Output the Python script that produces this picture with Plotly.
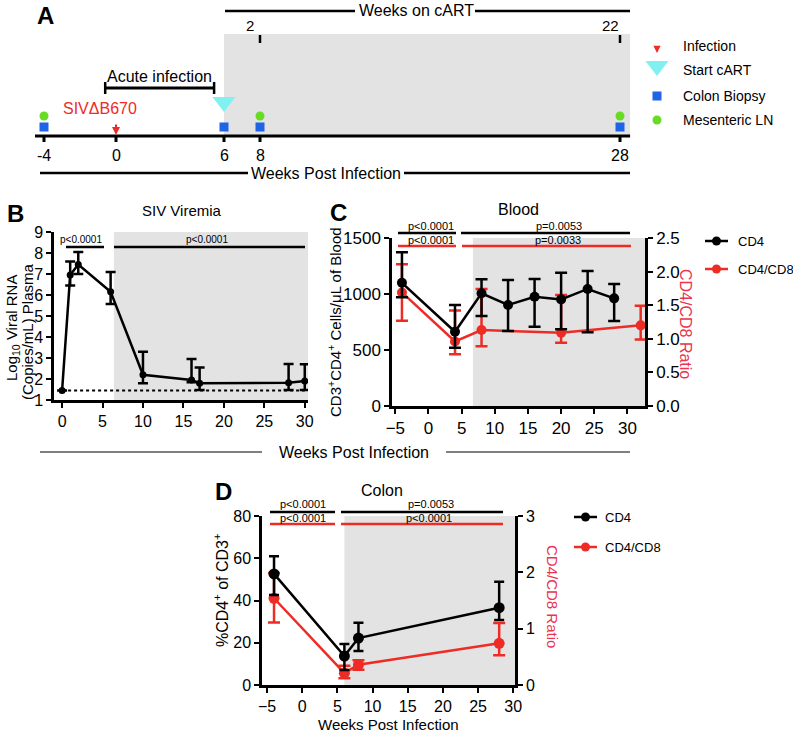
import plotly.graph_objects as go

# ---------------- data ----------------
# Panel A: study timeline (weeks post infection)
timeline_ticks = [-4, 0, 6, 8, 28]
infection_week = 0
cart_start_week = 6
cart_ticks = [8, 28]
biopsy_weeks = [-4, 6, 8, 28]
ln_weeks = [-4, 8, 28]

# Panel B: SIV viremia (log10 copies/mL)
vir_weeks = [0, 1, 2, 6, 10, 16, 17, 28, 30]
vir_mean = [1.45, 6.95, 7.45, 6.15, 2.2, 1.95, 1.8, 1.82, 1.9]
vir_upper = [1.45, 7.6, 8.05, 7.1, 3.3, 2.95, 2.55, 2.72, 2.7]
vir_lower = [1.45, 6.45, 7.0, 5.57, 1.8, 1.85, 1.48, 1.48, 1.48]
detection_limit = 1.45

# Panel C: blood
blood_cd4_weeks = [-4, 4, 8, 12, 16, 20, 24, 28]
blood_cd4_mean = [1100, 663, 1006, 902, 976, 952, 1045, 961]
blood_cd4_upper = [1372, 902, 1131, 1125, 1134, 1190, 1205, 1089]
blood_cd4_lower = [970, 520, 803, 670, 708, 685, 658, 759]
blood_ratio_weeks = [-4, 4, 8, 20, 32]
blood_ratio_mean = [1.69, 0.96, 1.13, 1.09, 1.2]
blood_ratio_upper = [2.11, 1.42, 1.74, 1.65, 1.49]
blood_ratio_lower = [1.27, 0.77, 0.89, 0.94, 0.99]

# Panel D: colon
colon_weeks = [-4, 6, 8, 28]
colon_cd4_mean = [52.6, 13.7, 22.2, 36.6]
colon_cd4_upper = [61, 19.4, 29.5, 48.9]
colon_cd4_lower = [42.6, 7.1, 16.1, 30.8]
colon_ratio_mean = [1.54, 0.21, 0.36, 0.74]
colon_ratio_upper = [1.99, 0.34, 0.44, 1.1]
colon_ratio_lower = [1.11, 0.12, 0.27, 0.53]

# ---------------- styling ----------------
W, H = 793, 732
FONT = "Liberation Sans, Arial, Helvetica, sans-serif"
RED = "#ee2b25"
RED_T = "#ec3350"
GRAY = "#e3e3e3"
BLUE = "#1f63e6"
GREEN = "#66dd22"
CYAN = "#80f0f0"


def dx(a, b):
    return [a / W, b / W]


def dy(top, bottom):
    return [1 - bottom / H, 1 - top / H]


def axstyle(size=15, **kw):
    d = dict(showline=True, linecolor="black", linewidth=2.5, ticks="outside",
             ticklen=5, tickwidth=2, tickcolor="black", showgrid=False,
             zeroline=False, automargin=False,
             tickfont=dict(family=FONT, size=size, color="black"))
    d.update(kw)
    return d


def err(mean, up, lo, color, width=5):
    return dict(type="data", symmetric=False,
                array=[u - m for m, u in zip(mean, up)],
                arrayminus=[m - l for m, l in zip(mean, lo)],
                thickness=2.5, width=width, color=color)


fig = go.Figure()
shapes = []
ann = []


def ptext(x, y, text, size=15, color="black", angle=0, xanchor="center", bold=False):
    if bold:
        text = "<b>" + text + "</b>"
    ann.append(dict(x=x, y=y, xref="x9", yref="y9", text=text, showarrow=False,
                    font=dict(family=FONT, size=size, color=color),
                    textangle=angle, xanchor=xanchor, yanchor="middle"))


def pline(x0, y0, x1, y1, color="black", width=2.5):
    shapes.append(dict(type="line", xref="x9", yref="y9", x0=x0, y0=y0, x1=x1, y1=y1,
                       line=dict(color=color, width=width)))


# ================= Panel A (weeks axis x / y ; y = 180 - pixel) =================
TL_START, TL_END = -4.5, 28.56
AY = lambda py: 180 - py
shapes.append(dict(type="rect", xref="x", yref="y", x0=cart_start_week, x1=TL_END,
                   y0=AY(136), y1=AY(34), fillcolor=GRAY, line=dict(width=0), layer="below"))
shapes.append(dict(type="line", xref="x", yref="y", x0=TL_START, x1=TL_END, y0=AY(136), y1=AY(136),
                   line=dict(color="black", width=3)))
for w in timeline_ticks:
    shapes.append(dict(type="line", xref="x", yref="y", x0=w, x1=w, y0=AY(136), y1=AY(142),
                       line=dict(color="black", width=3)))
    ann.append(dict(x=w, y=AY(155), xref="x", yref="y", text=str(w), showarrow=False,
                    font=dict(family=FONT, size=16, color="black")))
for w in cart_ticks:
    shapes.append(dict(type="line", xref="x", yref="y", x0=w, x1=w, y0=AY(43), y1=AY(35),
                       line=dict(color="black", width=2.5)))
    ann.append(dict(x=w, y=AY(25), xref="x", yref="y", text=str(w - cart_start_week), showarrow=False,
                    xshift=-10, font=dict(family=FONT, size=15, color="black")))
# acute infection bracket
shapes.append(dict(type="line", xref="x", yref="y", x0=-0.6, x1=5.45, y0=AY(88), y1=AY(88),
                   line=dict(color="black", width=3)))
for w in (-0.6, 5.45):
    shapes.append(dict(type="line", xref="x", yref="y", x0=w, x1=w, y0=AY(82), y1=AY(94),
                       line=dict(color="black", width=2.5)))
ann.append(dict(x=2.4, y=AY(76), xref="x", yref="y", text="Acute infection", showarrow=False,
                font=dict(family=FONT, size=16, color="black")))
ann.append(dict(x=infection_week - 0.9, y=AY(108), xref="x", yref="y", text="SIVΔB670", showarrow=False,
                font=dict(family=FONT, size=16, color=RED)))
ann.append(dict(x=infection_week, y=AY(135), xref="x", yref="y", text=" ", showarrow=True,
                ax=0, ay=-19, arrowhead=2, arrowsize=0.8, arrowwidth=2, arrowcolor=RED))
fig.add_trace(go.Scatter(x=[cart_start_week], y=[AY(102)], mode="markers", xaxis="x", yaxis="y",
                         marker=dict(symbol="triangle-down", size=20, color=CYAN), hoverinfo="skip"))
fig.add_trace(go.Scatter(x=biopsy_weeks, y=[AY(127)] * len(biopsy_weeks), mode="markers", xaxis="x", yaxis="y",
                         marker=dict(symbol="square", size=9, color=BLUE), hoverinfo="skip"))
fig.add_trace(go.Scatter(x=ln_weeks, y=[AY(116)] * len(ln_weeks), mode="markers", xaxis="x", yaxis="y",
                         marker=dict(symbol="circle", size=9, color=GREEN), hoverinfo="skip"))

# ================= Panel B =================
shapes.append(dict(type="rect", xref="x2", yref="y2", x0=6.4, x1=30.4, y0=1, y1=9,
                   fillcolor=GRAY, line=dict(width=0), layer="below"))
fig.add_trace(go.Scatter(x=[vir_weeks[0], vir_weeks[-1]], y=[detection_limit] * 2, mode="lines",
                         xaxis="x2", yaxis="y2", line=dict(color="black", width=2, dash="dot"), hoverinfo="skip"))
fig.add_trace(go.Scatter(x=vir_weeks, y=vir_mean, mode="lines+markers", xaxis="x2", yaxis="y2",
                         line=dict(color="black", width=2.5), marker=dict(size=7, color="black"),
                         error_y=err(vir_mean, vir_upper, vir_lower, "black", 5)))

# ================= Panel C (y3 = ratio right, y4 = CD4 left overlay) =================
shapes.append(dict(type="rect", xref="x3", yref="y4", x0=6.7, x1=32.65, y0=0, y1=1500,
                   fillcolor=GRAY, line=dict(width=0), layer="below"))
fig.add_trace(go.Scatter(x=blood_ratio_weeks, y=blood_ratio_mean, mode="lines+markers", xaxis="x3", yaxis="y3",
                         line=dict(color=RED, width=2.5), marker=dict(size=10, color=RED),
                         error_y=err(blood_ratio_mean, blood_ratio_upper, blood_ratio_lower, RED, 6)))
fig.add_trace(go.Scatter(x=blood_cd4_weeks, y=blood_cd4_mean, mode="lines+markers", xaxis="x3", yaxis="y4",
                         line=dict(color="black", width=2.5), marker=dict(size=10, color="black"),
                         error_y=err(blood_cd4_mean, blood_cd4_upper, blood_cd4_lower, "black", 6)))

# ================= Panel D (y5 = ratio right, y6 = CD4 left overlay) =================
shapes.append(dict(type="rect", xref="x5", yref="y6", x0=6.0, x1=30.25, y0=0, y1=80,
                   fillcolor=GRAY, line=dict(width=0), layer="below"))
fig.add_trace(go.Scatter(x=colon_weeks, y=colon_ratio_mean, mode="lines+markers", xaxis="x5", yaxis="y5",
                         line=dict(color=RED, width=2.5), marker=dict(size=11, color=RED),
                         error_y=err(colon_ratio_mean, colon_ratio_upper, colon_ratio_lower, RED, 6)))
fig.add_trace(go.Scatter(x=colon_weeks, y=colon_cd4_mean, mode="lines+markers", xaxis="x5", yaxis="y6",
                         line=dict(color="black", width=2.5), marker=dict(size=11, color="black"),
                         error_y=err(colon_cd4_mean, colon_cd4_upper, colon_cd4_lower, "black", 5)))

# ================= decorations in pixel space (x9/y9) =================
# Panel A extras
ptext(45, 15, "A", size=24, bold=True)
pline(225, 11, 355, 11, width=2.5)
pline(475, 11, 630, 11, width=2.5)
ptext(416, 10, "Weeks on cART", size=16)
pline(40, 173, 248, 173, width=2.5)
pline(404, 173, 630, 173, width=2.5)
ptext(326, 173, "Weeks Post Infection", size=16)
# legend A
ann.append(dict(x=657, y=53, xref="x9", yref="y9", text=" ", showarrow=True, ax=0, ay=-14,
                arrowhead=2, arrowsize=0.8, arrowwidth=1.8, arrowcolor=RED))
leg_a = [("Infection", 46), ("Start cART", 70), ("Colon Biopsy", 96), ("Mesenteric LN", 120)]
for t, yy in leg_a:
    ptext(681, yy, t, size=14, xanchor="left")
fig.add_trace(go.Scatter(x=[657], y=[66], mode="markers", xaxis="x9", yaxis="y9",
                         marker=dict(symbol="triangle-down", size=20, color=CYAN), hoverinfo="skip"))
fig.add_trace(go.Scatter(x=[657], y=[96], mode="markers", xaxis="x9", yaxis="y9",
                         marker=dict(symbol="square", size=9, color=BLUE), hoverinfo="skip"))
fig.add_trace(go.Scatter(x=[657], y=[120], mode="markers", xaxis="x9", yaxis="y9",
                         marker=dict(symbol="circle", size=9, color=GREEN), hoverinfo="skip"))

# Panel B extras
ptext(15, 213, "B", size=24, bold=True)
ptext(182, 210, "SIV Viremia", size=15)
ptext(12, 328, "Log<sub>10</sub> Viral RNA", size=15, angle=-90)
ptext(27, 332, "(Copies/mL) Plasma", size=15, angle=-90)
pline(66, 247, 104, 247)
pline(114, 247, 305, 247)
ptext(81, 239, "p<0.0001", size=10)
ptext(207, 239, "p<0.0001", size=10)

# Panel C extras
ptext(338, 212, "C", size=24, bold=True)
ptext(518, 209, "Blood", size=16)
ptext(334, 322, "CD3<sup>+</sup>CD4<sup>+</sup> Cells/μL of Blood", size=15, angle=-90)
ptext(686, 324, "CD4/CD8 Ratio", size=16, angle=90, color=RED_T)
pline(398, 233, 456, 233)
pline(461, 233, 630, 233)
pline(398, 246, 456, 246, color=RED)
pline(462, 246, 631, 246, color=RED)
ptext(431, 226, "p<0.0001", size=11)
ptext(559, 226, "p=0.0053", size=11)
ptext(431, 240, "p<0.0001", size=11)
ptext(558, 240, "p=0.0033", size=11)
# legend C
pline(705, 241, 728, 241, width=2.5)
pline(705, 269, 728, 269, color=RED, width=2.5)
fig.add_trace(go.Scatter(x=[716.5, 716.5], y=[241, 269], mode="markers", xaxis="x9", yaxis="y9",
                         marker=dict(size=9, color=["black", RED]), hoverinfo="skip"))
ptext(736, 241, "CD4", size=13, xanchor="left")
ptext(736, 269, "CD4/CD8", size=13, xanchor="left")

# shared x title between B and C
pline(40, 452, 262, 452, width=1.2)
pline(446, 452, 630, 452, width=1.2)
ptext(354, 452, "Weeks Post Infection", size=16)

# Panel D extras
ptext(223, 491, "D", size=24, bold=True)
ptext(382, 490, "Colon", size=16)
ptext(221, 590, "%CD4<sup>+</sup> of CD3<sup>+</sup>", size=16, angle=-90)
ptext(553, 596, "CD4/CD8 Ratio", size=15, angle=90, color=RED_T)
ptext(388, 724, "Weeks Post Infection", size=15)
pline(270, 512, 335, 512)
pline(341, 512, 503, 512)
pline(270, 524, 335, 524, color=RED)
pline(341, 524, 503, 524, color=RED)
ptext(303, 504, "p<0.0001", size=11)
ptext(431, 504, "p=0.0053", size=11)
ptext(303, 518, "p<0.0001", size=11)
ptext(429, 518, "p<0.0001", size=11)
# legend D
pline(574, 517, 597, 517, width=2.5)
pline(574, 547, 597, 547, color=RED, width=2.5)
fig.add_trace(go.Scatter(x=[585.5, 585.5], y=[517, 547], mode="markers", xaxis="x9", yaxis="y9",
                         marker=dict(size=9, color=["black", RED]), hoverinfo="skip"))
ptext(603, 517, "CD4", size=13, xanchor="left")
ptext(603, 547, "CD4/CD8", size=13, xanchor="left")

# ---------------- layout ----------------
hidden = dict(visible=False, showgrid=False, zeroline=False, automargin=False)
fig.update_layout(
    width=W, height=H, margin=dict(l=0, r=0, t=0, b=0, pad=0, autoexpand=False),
    paper_bgcolor="white", plot_bgcolor="rgba(0,0,0,0)", showlegend=False,
    font=dict(family=FONT, color="black"),
    # Panel A
    xaxis=dict(hidden, domain=[0, 1], range=[(0 - 116) / 18, (W - 116) / 18], anchor="y"),
    yaxis=dict(hidden, domain=dy(0, 180), range=[0, 180], anchor="x"),
    # Panel B
    xaxis2=axstyle(16, domain=dx(54, 308), range=[-1, 30.4], tickvals=[0, 5, 10, 15, 20, 25, 30], anchor="y2"),
    yaxis2=axstyle(16, domain=dy(232, 400), range=[1, 9], dtick=1, anchor="x2"),
    # Panel C
    xaxis3=axstyle(17, domain=dx(392, 645), range=[-5.5, 32.65],
                   tickvals=[-5, 0, 5, 10, 15, 20, 25, 30], anchor="y3"),
    yaxis3=axstyle(17, domain=dy(238, 406), range=[0, 2.5], tickvals=[0, 0.5, 1, 1.5, 2, 2.5],
                   tickformat=".1f", side="right", anchor="x3"),
    yaxis4=axstyle(17, range=[0, 1500], tickvals=[0, 500, 1000, 1500], side="left",
                   overlaying="y3", anchor="x3"),
    # Panel D
    xaxis5=axstyle(16, domain=dx(262, 515), range=[-5.71, 30.25],
                   tickvals=[-5, 0, 5, 10, 15, 20, 25, 30], anchor="y5"),
    yaxis5=axstyle(16, domain=dy(516, 685), range=[0, 3], tickvals=[0, 1, 2, 3], side="right", anchor="x5"),
    yaxis6=axstyle(16, range=[0, 80], tickvals=[0, 20, 40, 60, 80], side="left",
                   overlaying="y5", anchor="x5"),
    # pixel overlay
    xaxis9=dict(hidden, domain=[0, 1], range=[0, W], anchor="y9"),
    yaxis9=dict(hidden, domain=[0, 1], range=[H, 0], anchor="x9"),
    shapes=shapes, annotations=ann,
)

fig.write_html("out.html", config={"displayModeBar": False},
               post_script="document.body.style.margin='0';document.body.style.padding='0';"
                           "document.body.style.overflow='hidden';")
